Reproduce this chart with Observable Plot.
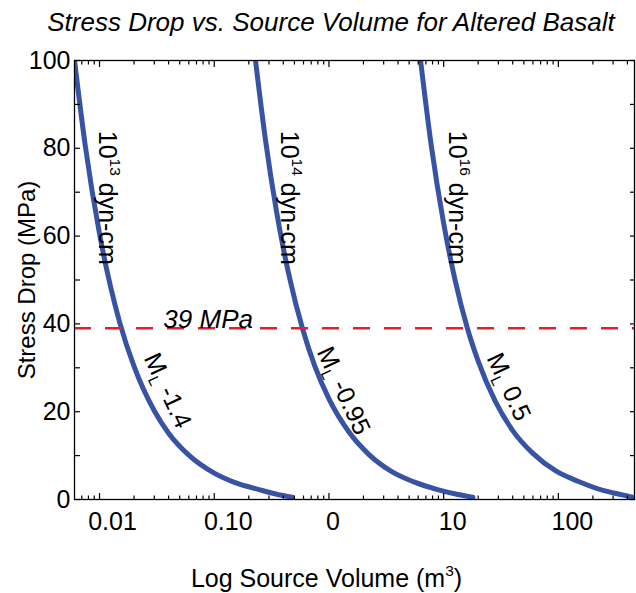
<!DOCTYPE html>
<html><head><meta charset="utf-8">
<script src="https://cdn.jsdelivr.net/npm/d3@7"></script>
<script src="https://cdn.jsdelivr.net/npm/@observablehq/plot@0.6"></script>
<style>
body{margin:0;background:#fff;width:636px;height:593px;overflow:hidden;font-family:"Liberation Sans",Arial,sans-serif}
#title{height:44px;line-height:44px;font-style:italic;font-size:26px;text-align:center;padding-left:26px;box-sizing:border-box;white-space:nowrap;color:#000}
</style></head><body>
<div id="title">Stress Drop vs. Source Volume for Altered Basalt</div>
<div id="chart"></div>
<script>
// ---- data ----
const volume13 = [0.00605, 0.0075, 0.01, 0.0125, 0.015, 0.02, 0.03, 0.04, 0.06, 0.1, 0.15, 0.25, 0.35, 0.48];
const stress13 = [100, 80.7, 60.5, 48.4, 40.3, 30.3, 20.2, 15.1, 10.1, 6.0, 3.9, 2.2, 1.2, 0.5];
const volume14 = [0.229, 0.28, 0.35, 0.45, 0.587, 0.75, 1.0, 1.5, 2.2, 3.5, 5.5, 9, 13, 18];
const stress14 = [100, 81.8, 65.4, 50.9, 39.0, 30.5, 22.9, 15.3, 10.4, 6.4, 4.0, 2.2, 1.2, 0.5];
const volume16 = [6.29, 7.8, 10, 12.5, 16.1, 20, 28, 40, 60, 95, 150, 250, 370, 461];
const stress16 = [100, 80.6, 62.9, 50.3, 39.0, 31.5, 22.5, 15.7, 10.5, 6.5, 4.1, 2.0, 1.0, 0.4];

const thresholdStress = 39;
const thresholdLabel = "39 MPa";

const momentLabels = ["10^{13} dyn-cm", "10^{14} dyn-cm", "10^{16} dyn-cm"];
const momentLabelVolume = [0.0117, 0.45, 13.2];
const momentLabelStress = [84, 84, 84];

const magLabels = ["M_{L} -1.4", "M_{L} -0.95", "M_{L} 0.5"];
const magLabelVolume = [0.028, 0.9, 27.2];
const magLabelStress = [33.0, 34.4, 33.0];

const xTickValues = [0.01, 0.1, 1, 10, 100];
const xTickLabels = ["0.01", "0.10", "0", "10", "100"];
const yTickValues = [0, 20, 40, 60, 80, 100];
const yAllTicks = [0, 10, 20, 30, 40, 50, 60, 70, 80, 90, 100];

const xDomain = [0.00605, 461];
const yDomain = [0, 100];

// ---- build tables ----
const curves = [
  {name: "13", v: volume13, s: stress13},
  {name: "14", v: volume14, s: stress14},
  {name: "16", v: volume16, s: stress16}
].flatMap(c => c.v.map((v, i) => ({curve: c.name, v, s: c.s[i]})));
const momentTable = momentLabels.map((t, i) => ({t, v: momentLabelVolume[i], s: momentLabelStress[i]}));
const magTable = magLabels.map((t, i) => ({t, v: magLabelVolume[i], s: magLabelStress[i]}));
const xMinor = [];
for (const dec of [0.001, 0.01, 0.1, 1, 10, 100]) for (let k = 2; k <= 9; k++) {
  const v = +(dec * k).toPrecision(3);
  if (v > xDomain[0] && v < xDomain[1]) xMinor.push(v);
}

const blue = "#3953a4", red = "#ec1c24";
const empty = () => "";
const labelNudge = [13, 14, 4, 9, 14]; // horizontal placement of x tick labels (style)

const chart = Plot.plot({
  width: 636, height: 549,
  marginTop: 16, marginBottom: 94, marginLeft: 74, marginRight: 2,
  style: {fontFamily: '"Liberation Sans", Arial, sans-serif', fontSize: "25px", background: "white", color: "black", overflow: "visible"},
  x: {type: "log", domain: xDomain},
  y: {domain: yDomain},
  marks: [
    Plot.line(curves, {x: "v", y: "s", z: "curve", stroke: blue, strokeWidth: 5, curve: "monotone-x", clip: true}),
    Plot.ruleY([thresholdStress], {stroke: red, strokeWidth: 2.6, strokeDasharray: "17,14"}),
    Plot.text([thresholdLabel], {x: [0.036], y: [thresholdStress], text: d => d, textAnchor: "start", lineAnchor: "middle", dy: -9, fontStyle: "italic", fontSize: 26}),
    Plot.text(momentTable, {x: "v", y: "s", text: "t", rotate: 90, textAnchor: "start", lineAnchor: "middle", fontSize: 25}),
    Plot.text(magTable, {x: "v", y: "s", text: "t", rotate: 65, textAnchor: "start", lineAnchor: "middle", fontSize: 25}),
    Plot.frame({stroke: "black", strokeWidth: 1.3}),
    // inward ticks
    Plot.axisY({anchor: "left", ticks: yAllTicks, tickSize: -6, tickFormat: empty, label: null, strokeWidth: 1.2}),
    Plot.axisY({anchor: "right", ticks: yAllTicks, tickSize: -5, tickFormat: empty, label: null, strokeWidth: 1.2}),
    Plot.axisX({anchor: "bottom", ticks: xTickValues, tickSize: -6, tickFormat: empty, label: null, strokeWidth: 1.2}),
    Plot.axisX({anchor: "bottom", ticks: xMinor, tickSize: -3.5, tickFormat: empty, label: null, strokeWidth: 1.2}),
    Plot.axisX({anchor: "top", ticks: xTickValues, tickSize: -6, tickFormat: empty, label: null, strokeWidth: 1.2}),
    Plot.axisX({anchor: "top", ticks: xMinor, tickSize: -3.5, tickFormat: empty, label: null, strokeWidth: 1.2}),
    // tick labels
    Plot.axisY({anchor: "left", ticks: yTickValues, tickSize: 0, tickPadding: 4, label: null}),
    ...xTickValues.map((v, i) => Plot.axisX({anchor: "bottom", ticks: [v], tickSize: 0, tickPadding: 13, dx: labelNudge[i], tickFormat: () => xTickLabels[i], label: null})),
    // axis titles
    Plot.text(["Log Source Volume (m^{3})"], {frameAnchor: "bottom", text: d => d, dy: 79, dx: -28, textAnchor: "middle", lineAnchor: "middle", fontSize: 25}),
    Plot.text(["Stress Drop (MPa)"], {frameAnchor: "left", text: d => d, rotate: -90, dx: -47, textAnchor: "middle", lineAnchor: "middle", fontSize: 24})
  ]
});
document.getElementById("chart").appendChild(chart);

// superscripts / subscripts
(function richText(root) {
  root.querySelectorAll("text").forEach(t => {
    const s = t.textContent;
    if (!/[\^_]\{/.test(s)) return;
    const fs = parseFloat(getComputedStyle(t).fontSize) || 25;
    while (t.firstChild) t.removeChild(t.firstChild);
    const re = /([\^_])\{([^}]*)\}/g;
    let last = 0, m, shift = 0;
    const add = (str, kind) => {
      const ts = document.createElementNS("http://www.w3.org/2000/svg", "tspan");
      const target = kind === "^" ? -0.42 * fs : kind === "_" ? 0.22 * fs : 0;
      const d = target - shift;
      if (d) ts.setAttribute("dy", d);
      shift = target;
      if (kind) ts.setAttribute("font-size", 0.62 * fs);
      ts.textContent = str;
      t.appendChild(ts);
    };
    while ((m = re.exec(s))) {
      if (m.index > last) add(s.slice(last, m.index), null);
      add(m[2], m[1]);
      last = re.lastIndex;
    }
    if (last < s.length) add(s.slice(last), null);
  });
})(chart);
</script>
</body></html>
